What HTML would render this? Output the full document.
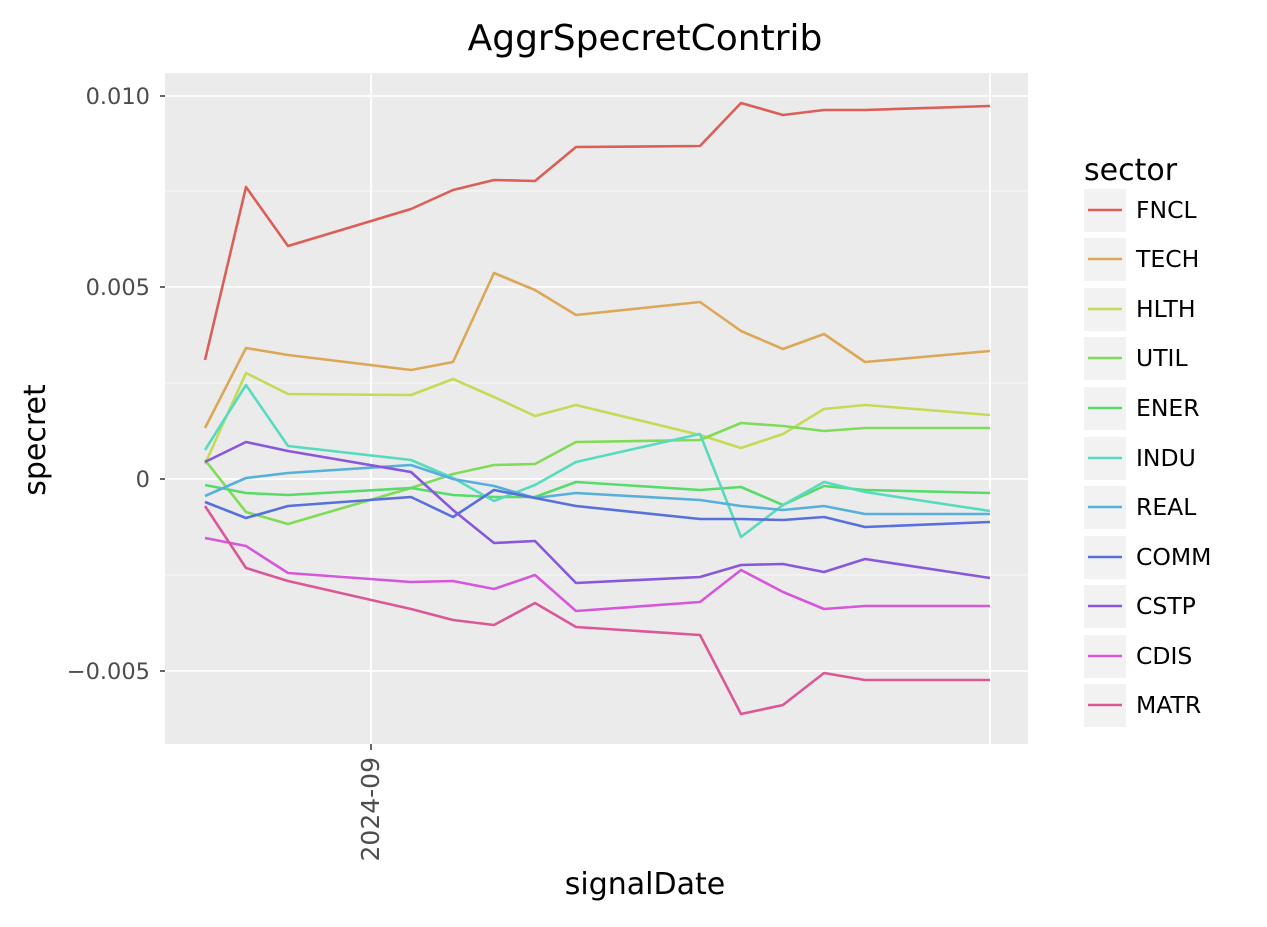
<!DOCTYPE html>
<html><head><meta charset="utf-8"><style>body{margin:0;background:#fff}</style></head><body>
<svg width="1267" height="922" xmlns="http://www.w3.org/2000/svg" font-family="DejaVu Sans, sans-serif">
<rect width="1267" height="922" fill="#fff"/>
<rect x="165" y="73" width="863" height="671" fill="#ebebeb"/>
<g stroke="#fff" stroke-width="0.8">
<line x1="165" x2="1028" y1="191" y2="191"/><line x1="165" x2="1028" y1="383" y2="383"/><line x1="165" x2="1028" y1="575" y2="575"/>
</g>
<g stroke="#fff" stroke-width="1.8">
<line x1="165" x2="1028" y1="96" y2="96"/><line x1="165" x2="1028" y1="287" y2="287"/><line x1="165" x2="1028" y1="479" y2="479"/><line x1="165" x2="1028" y1="671" y2="671"/>
<line x1="371" x2="371" y1="73" y2="744"/><line x1="990" x2="990" y1="73" y2="744"/>
</g>
<g fill="none" stroke-width="2.6" stroke-linejoin="round">
<polyline stroke="#db5f57" points="205,360 246,187 288,246 411,209 453,190 494,180 535,181 576,147 700,146 741,103 783,115 824,110 865,110 990,106"/>
<polyline stroke="#dba857" points="205,428 246,348 288,355 411,370 453,362 494,273 535,290 576,315 700,302 741,331 783,349 824,334 865,362 990,351"/>
<polyline stroke="#c3db57" points="205,464 246,373 288,394 411,395 453,379 494,397 535,416 576,405 700,435 741,448 783,434 824,409 865,405 990,415"/>
<polyline stroke="#80db57" points="205,460 246,512 288,524 411,488 453,474 494,465 535,464 576,442 700,440 741,423 783,426 824,431 865,428 990,428"/>
<polyline stroke="#57db6a" points="205,485 246,493 288,495 411,488 453,495 494,497 535,497 576,482 700,490 741,487 783,505 824,486 865,490 990,493"/>
<polyline stroke="#57dbc0" points="205,450 246,385 288,446 411,460 453,478 494,501 535,485 576,462 700,434 741,537 783,505 824,482 865,492 990,511"/>
<polyline stroke="#57b0db" points="205,496 246,478 288,473 411,465 453,479 494,486 535,498 576,493 700,500 741,506 783,510 824,506 865,514 990,514"/>
<polyline stroke="#5770db" points="205,502 246,518 288,506 411,497 453,517 494,490 535,498 576,506 700,519 741,519 783,520 824,517 865,527 990,522"/>
<polyline stroke="#8857db" points="205,462 246,442 288,451 411,472 453,510 494,543 535,541 576,583 700,577 741,565 783,564 824,572 865,559 990,578"/>
<polyline stroke="#d757db" points="205,538 246,546 288,573 411,582 453,581 494,589 535,575 576,611 700,602 741,570 783,592 824,609 865,606 990,606"/>
<polyline stroke="#db5797" points="205,506 246,568 288,581 411,609 453,620 494,625 535,603 576,627 700,635 741,714 783,705 824,673 865,680 990,680"/>
</g>
<g stroke="#333" stroke-width="1.5">
<line x1="160" x2="165" y1="96" y2="96"/><line x1="160" x2="165" y1="287" y2="287"/><line x1="160" x2="165" y1="479" y2="479"/><line x1="160" x2="165" y1="671" y2="671"/>
<line x1="371" x2="371" y1="744" y2="750"/>
</g>
<g fill="#4d4d4d" font-size="22.5" text-anchor="end">
<text x="150" y="104">0.010</text><text x="150" y="295">0.005</text><text x="150" y="487">0</text><text x="150" y="679">−0.005</text>
<text transform="translate(379,757) rotate(-90)" font-size="25">2024-09</text>
</g>
<text x="645" y="50" font-size="36" text-anchor="middle">AggrSpecretContrib</text>
<text x="645" y="894" font-size="30" text-anchor="middle">signalDate</text>
<text transform="translate(45,440) rotate(-90)" font-size="30" text-anchor="middle">specret</text>
<text x="1084" y="180" font-size="30">sector</text>
<g font-size="23.5">
<g fill="#f2f2f2">
<rect x="1084" y="189" width="42" height="43"/><rect x="1084" y="238" width="42" height="43"/><rect x="1084" y="288" width="42" height="43"/><rect x="1084" y="337" width="42" height="43"/><rect x="1084" y="387" width="42" height="43"/><rect x="1084" y="437" width="42" height="43"/><rect x="1084" y="486" width="42" height="43"/><rect x="1084" y="536" width="42" height="43"/><rect x="1084" y="585" width="42" height="43"/><rect x="1084" y="635" width="42" height="43"/><rect x="1084" y="684" width="42" height="43"/>
</g>
<g stroke-width="2.6">
<line x1="1088" x2="1122" y1="210" y2="210" stroke="#db5f57"/>
<line x1="1088" x2="1122" y1="259" y2="259" stroke="#dba857"/>
<line x1="1088" x2="1122" y1="309" y2="309" stroke="#c3db57"/>
<line x1="1088" x2="1122" y1="358" y2="358" stroke="#80db57"/>
<line x1="1088" x2="1122" y1="408" y2="408" stroke="#57db6a"/>
<line x1="1088" x2="1122" y1="458" y2="458" stroke="#57dbc0"/>
<line x1="1088" x2="1122" y1="507" y2="507" stroke="#57b0db"/>
<line x1="1088" x2="1122" y1="557" y2="557" stroke="#5770db"/>
<line x1="1088" x2="1122" y1="606" y2="606" stroke="#8857db"/>
<line x1="1088" x2="1122" y1="656" y2="656" stroke="#d757db"/>
<line x1="1088" x2="1122" y1="705" y2="705" stroke="#db5797"/>
</g>
<text x="1136" y="218">FNCL</text><text x="1136" y="267">TECH</text><text x="1136" y="317">HLTH</text><text x="1136" y="366">UTIL</text><text x="1136" y="416">ENER</text><text x="1136" y="466">INDU</text><text x="1136" y="515">REAL</text><text x="1136" y="565">COMM</text><text x="1136" y="614">CSTP</text><text x="1136" y="664">CDIS</text><text x="1136" y="713">MATR</text>
</g>
</svg>
</body></html>
